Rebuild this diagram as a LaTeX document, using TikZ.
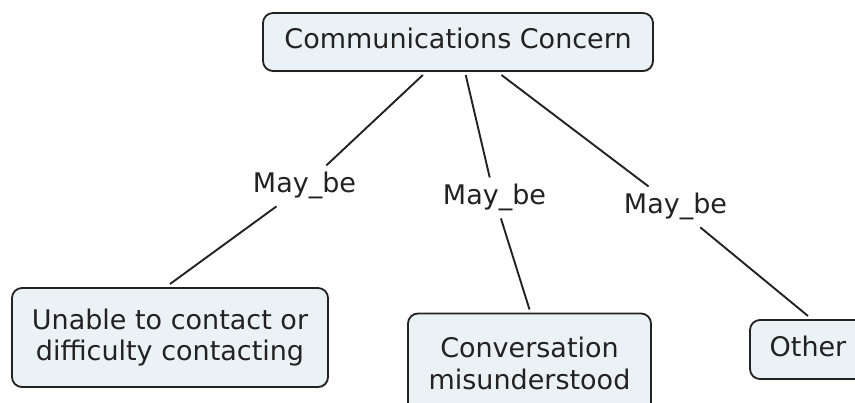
\documentclass[tikz,border=0pt]{standalone}
\usepackage{fontspec}
\setmainfont{DejaVu Sans}
\usetikzlibrary{shadows}
\definecolor{boxfill}{HTML}{EAF2F5}
\definecolor{ink}{HTML}{222222}
\begin{document}
\begin{tikzpicture}[x=1pt,y=-1pt,
  concept/.style={draw=ink, line width=1.8pt, fill=boxfill, rounded corners=10pt,
    align=center, inner sep=0pt, outer sep=4pt, text=ink,
    font=\fontsize{27}{31}\selectfont,
    drop shadow={shadow xshift=0.8pt, shadow yshift=-1.2pt, fill=black!30, opacity=0.6}},
  linkword/.style={inner sep=3pt, outer sep=4pt, text=ink,
    font=\fontsize{27}{31}\selectfont},
  link/.style={draw=ink, line width=1.9pt}]
  \useasboundingbox (0,0) rectangle (855,403);
  \clip (0,0) rectangle (855,403);

  % concepts
  \node[concept, minimum width=390pt, minimum height=58pt,
        text height=20pt, text depth=6pt] (top) at (458,42) {Communications Concern};
  \node[concept, minimum width=316pt, minimum height=99pt] (c1) at (170,337.5)
        {Unable to contact or\\difficulty contacting};
  \node[concept, minimum width=243pt, minimum height=99pt,
        font=\fontsize{27}{32}\selectfont] (c2) at (529.5,363)
        {Conversation\\misunderstood};
  \node[concept, minimum width=116pt, minimum height=59pt,
        text height=20pt, text depth=6pt] (c3) at (808,349.5) {Other};

  % linking phrases
  \node[linkword, anchor=base] (l1) at (304.5,193) {May\_be};
  \node[linkword, anchor=base] (l2) at (494.5,205) {May\_be};
  \node[linkword, anchor=base] (l3) at (675.5,214) {May\_be};

  % connections
  \draw[link] (top) -- (l1);
  \draw[link] (l1) -- (c1.north);
  \draw[link] (top) -- (l2);
  \draw[link] (l2) -- (c2.north);
  \draw[link] (top) -- (l3);
  \draw[link] (l3) -- (c3.north);
\end{tikzpicture}
\end{document}
